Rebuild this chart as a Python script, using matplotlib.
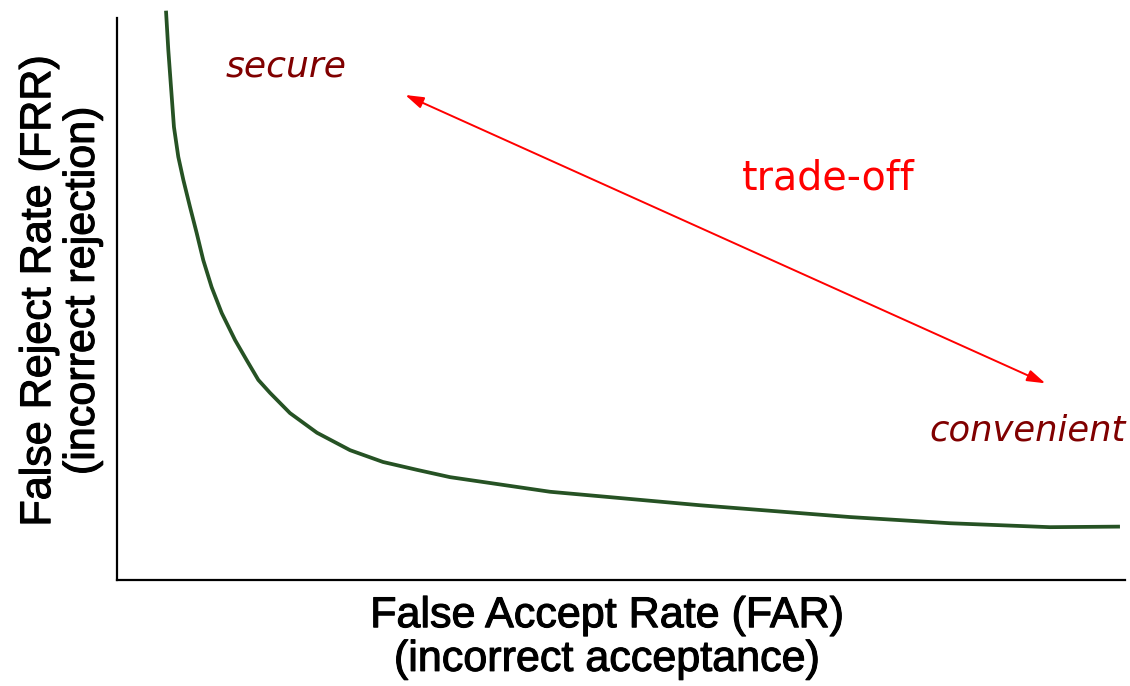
import matplotlib
matplotlib.use('Agg')
from matplotlib import pyplot as plt
from matplotlib import patheffects as pe

# FAR / FRR trade-off curve (arbitrary units, 0-100)
far = [4.86, 5.09, 5.33, 5.65, 6.08, 6.58, 7.24, 7.91, 8.56, 9.39, 10.39,
       11.71, 12.87, 14.02, 15.18, 17.16, 19.84, 23.12, 26.39, 29.76, 33.04,
       42.96, 57.84, 72.72, 82.64, 92.56, 99.5]
frr = [101.3, 94.3, 88.4, 80.6, 75.3, 71.2, 66.4, 61.7, 56.9, 52.1, 47.5,
       42.7, 39.1, 35.6, 33.3, 29.7, 26.2, 23.1, 21.0, 19.6, 18.3,
       15.7, 13.3, 11.2, 10.1, 9.4, 9.5]

arrow_start = (28.6, 86.3)
arrow_end = (92.1, 35.0)

fig = plt.figure(figsize=(11.3, 6.86), dpi=100)
ax = fig.add_axes([117 / 1130, 1 - 580 / 686, 1008 / 1130, 562 / 686])

ax.plot(far, frr, color='#265224', lw=2.7, clip_on=False,
        solid_capstyle='butt', solid_joinstyle='round')
ax.set_xlim(0, 100)
ax.set_ylim(0, 100)

ax.annotate('', xy=arrow_start, xytext=arrow_end,
            arrowprops=dict(arrowstyle='<|-|>,head_length=1.1,head_width=0.35',
                            color='#ff0000', lw=1.4, shrinkA=0, shrinkB=0))

ax.text(16.8, 91.4, 'secure', color='#800000', fontsize=26, style='italic',
        ha='center', va='center', family='DejaVu Sans')
ax.text(90.3, 26.6, 'convenient', color='#800000', fontsize=25.5, style='italic',
        ha='center', va='center', family='DejaVu Sans')
ax.text(70.6, 71.5, 'trade-off', color='#ff0000', fontsize=28.5,
        ha='center', va='center', family='DejaVu Sans')

for side in ('top', 'right'):
    ax.spines[side].set_visible(False)
for side in ('left', 'bottom'):
    ax.spines[side].set_linewidth(1.6)
ax.set_xticks([])
ax.set_yticks([])

lab = dict(family='Liberation Sans', fontsize=31, ha='center', va='center',
           linespacing=1.12,
           path_effects=[pe.withStroke(linewidth=0.8, foreground='black')])
fig.text(607 / 1130, 1 - 638 / 686, 'False Accept Rate (FAR)\n(incorrect acceptance)', **lab)
fig.text(61 / 1130, 1 - 291 / 686, 'False Reject Rate (FRR)\n(incorrect rejection)',
         rotation=90, **lab)

fig.savefig('out.png', dpi=100)
